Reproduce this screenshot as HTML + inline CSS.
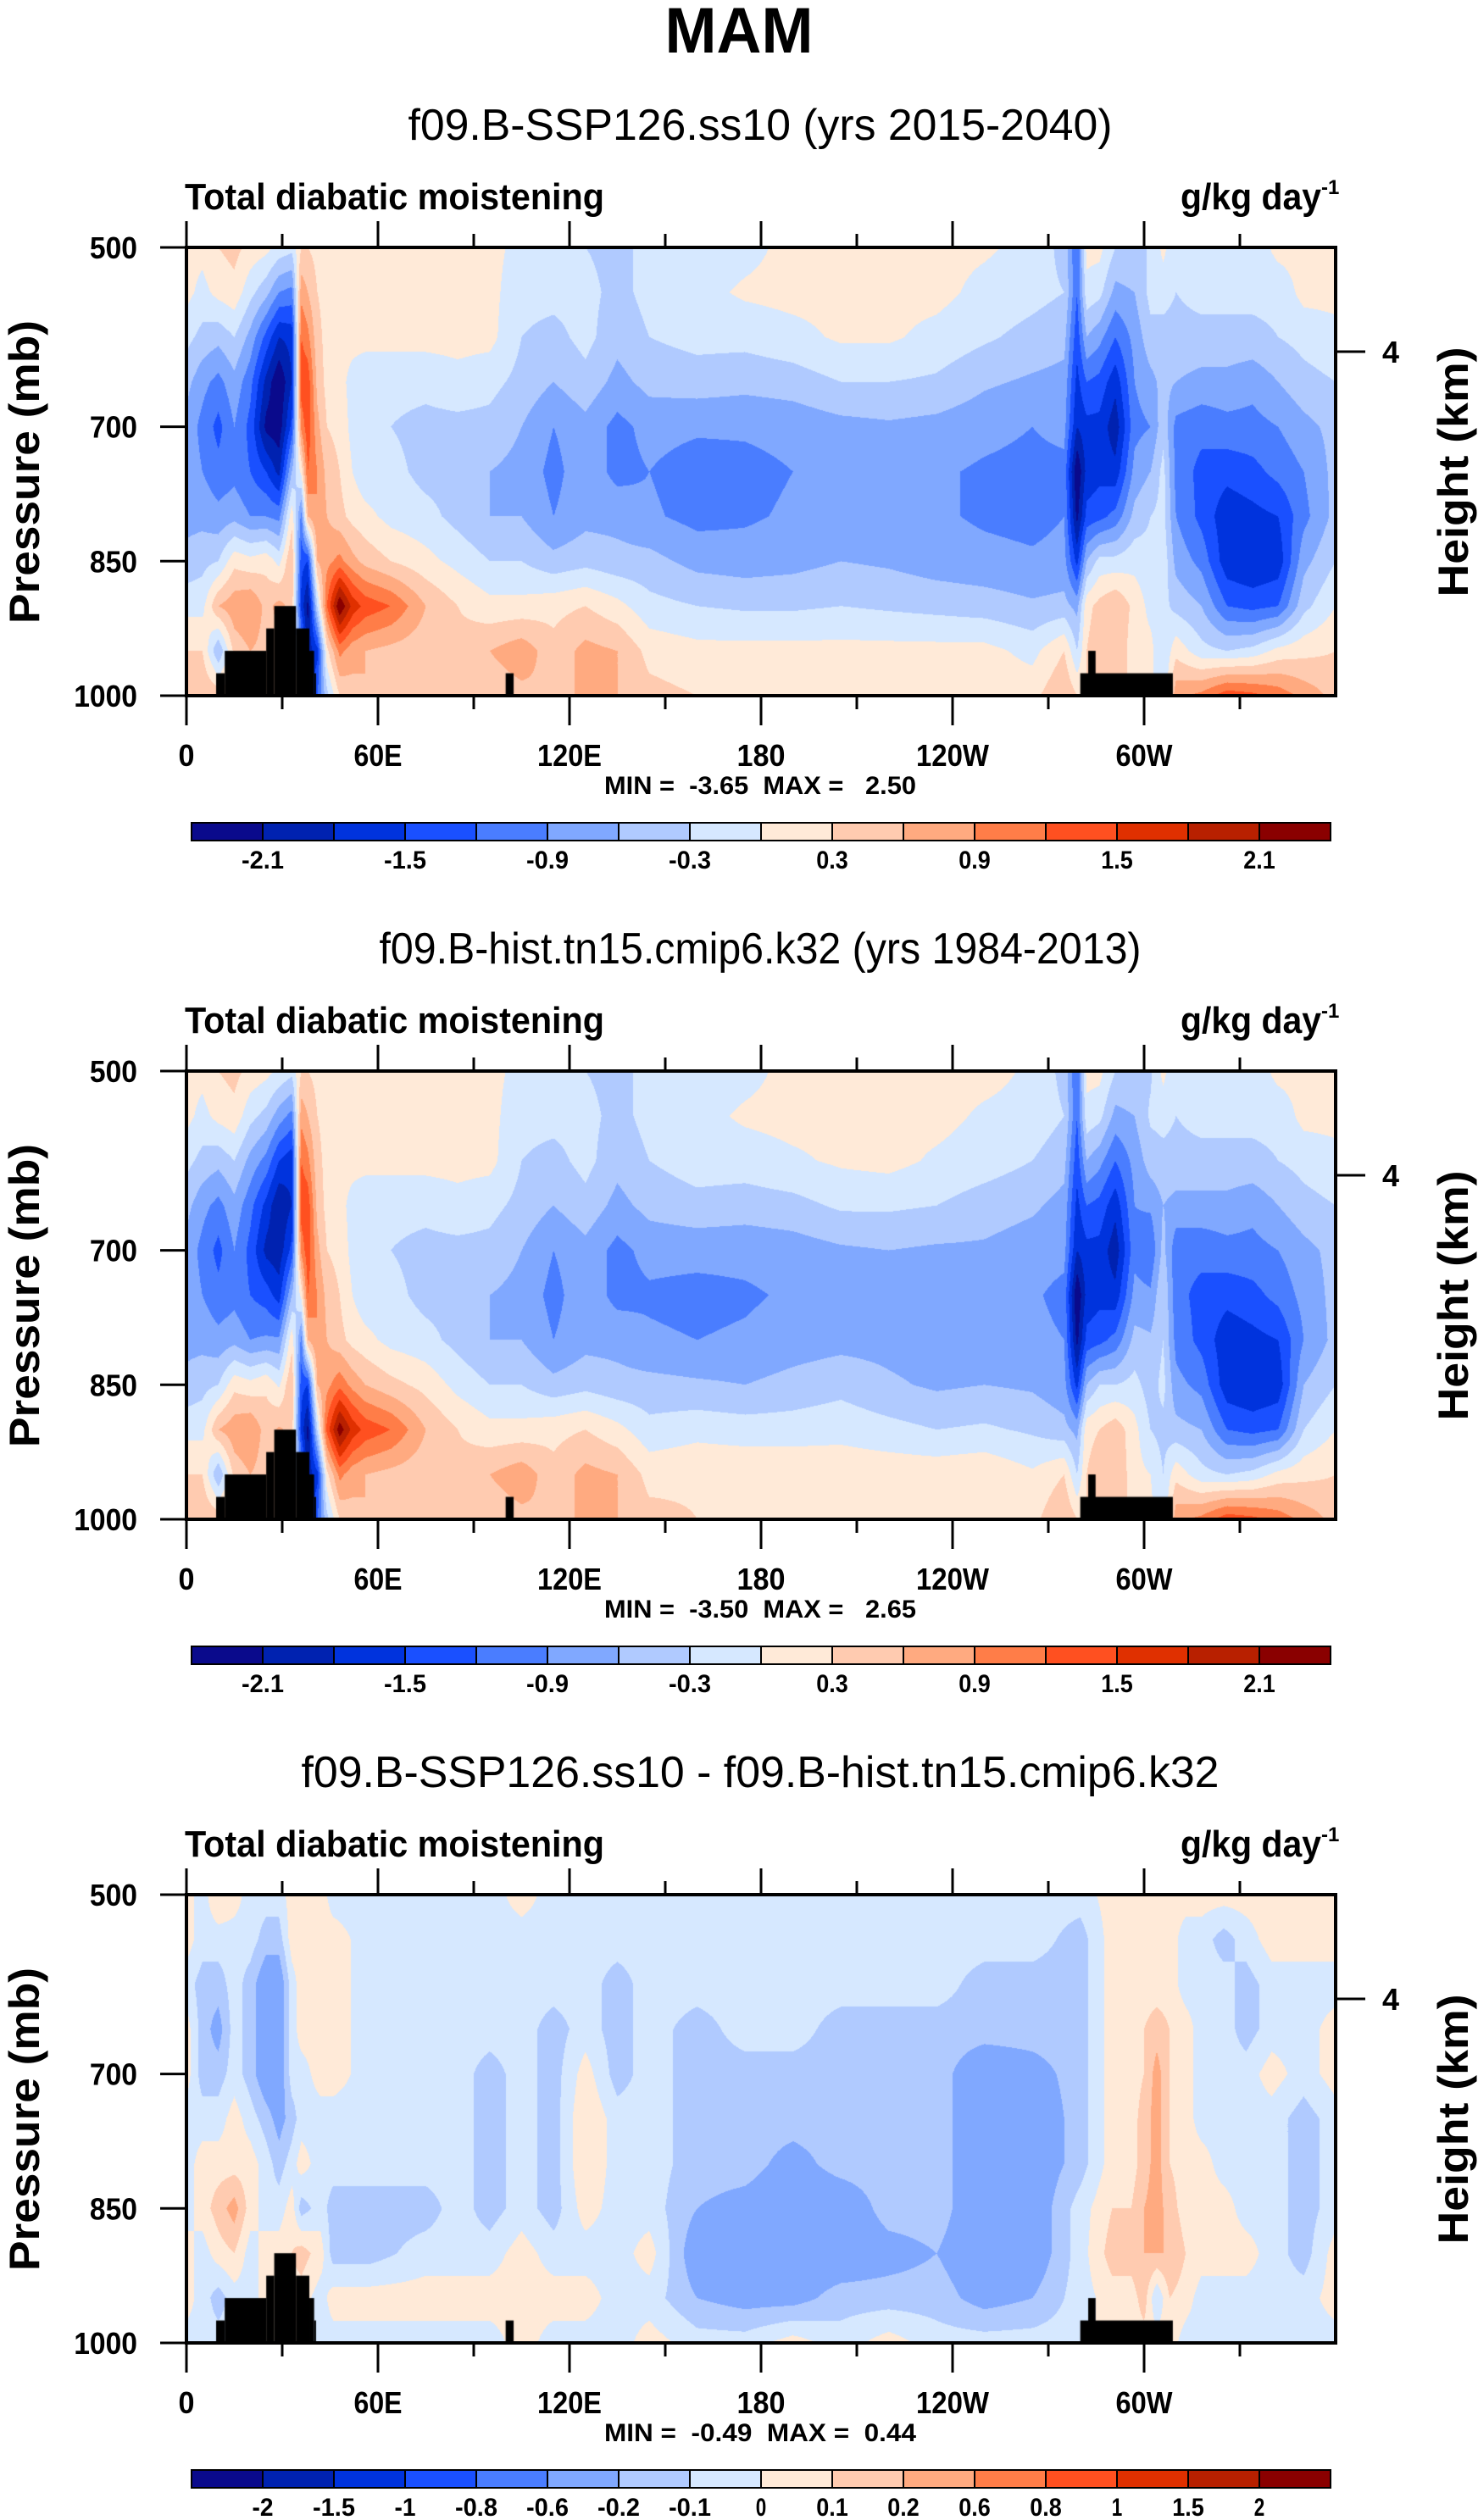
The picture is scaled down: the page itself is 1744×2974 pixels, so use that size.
<!DOCTYPE html>
<html><head><meta charset="utf-8"><title>MAM Total diabatic moistening</title>
<style>
body{margin:0;width:1744px;height:2974px;background:#fff;position:relative;overflow:hidden}
canvas{position:absolute}
svg{position:absolute;left:0;top:0}
text{font-family:"Liberation Sans",sans-serif;fill:#000;white-space:pre}
</style></head>
<body>
<canvas id="c0" width="1356" height="529" style="left:220px;top:292px"></canvas>
<canvas id="c1" width="1356" height="529" style="left:220px;top:1264px"></canvas>
<canvas id="c2" width="1356" height="529" style="left:220px;top:2236px"></canvas>
<svg id="s" width="1744" height="2974"></svg>
<script>
const pLevels=[500,550,600,650,700,750,800,850,900,950,1000];
const lonsAB=[0,5,10,15,20,25,29,33,36,38,41,44,48,52,56,64,75,85,95,105,115,125,135,145,160,175,190,205,220,235,250,265,275,279,282,286,291,297,302,306,310,318,326,334,342,350,360];
const sspField=[
[0.1,0.1,-0.2,-0.5,-0.7,-0.7,-0.7,-0.5,-0.1,0.3,0.5],
[0.1,-0.1,-0.4,-0.8,-1.0,-0.9,-0.7,-0.4,-0.1,0.3,0.6],
[0.3,0.1,-0.5,-1.0,-1.3,-1.1,-0.8,-0.3,0.6,-0.6,0.5],
[0.4,0.2,-0.3,-0.7,-0.9,-1.0,-0.7,0.2,0.8,0.4,0.4],
[0.2,-0.2,-0.7,-1.1,-1.3,-1.2,-0.9,0.1,0.9,0.6,0.5],
[0.1,-0.5,-1.3,-1.9,-2.2,-1.5,-0.9,0.2,0.5,0.5,0.5],
[-0.1,-0.9,-1.8,-2.4,-2.3,-1.9,-1.0,-0.1,0.7,0.5,0.5],
[-0.2,-1.0,-1.7,-1.8,-1.4,-0.6,0.2,0.6,0.5,0.3,0.3],
[0.3,0.8,1.2,1.4,1.0,0.1,-1.0,-1.4,-1.6,-0.8,0.2],
[0.3,0.6,1.0,1.4,1.4,1.2,0.6,-1.5,-2.2,-2.0,-1.5],
[0.2,0.3,0.4,0.5,0.7,0.9,0.9,0.6,-0.3,-1.6,-1.2],
[0.1,0.2,0.2,0.2,0.3,0.5,0.6,0.8,1.2,0.2,-0.4],
[0.1,0.1,0.1,0.1,0.2,0.3,0.4,1.0,2.4,1.0,0.3],
[0.1,0.1,0.1,-0.1,-0.1,0.0,0.2,0.7,1.7,0.7,0.5],
[0.1,0.1,0.1,-0.2,-0.2,-0.2,0.1,0.5,1.4,0.6,0.6],
[0.1,0.1,0.1,-0.2,-0.3,-0.2,-0.1,0.3,1.2,0.5,0.5],
[0.1,0.1,0.1,-0.2,-0.4,-0.4,-0.2,0.1,0.6,0.4,0.4],
[0.1,0.1,0.1,-0.1,-0.4,-0.4,-0.4,-0.1,0.3,0.4,0.4],
[0.1,0.1,0.1,-0.2,-0.4,-0.6,-0.6,-0.3,0.1,0.6,0.4],
[-0.1,-0.2,-0.3,-0.4,-0.6,-0.7,-0.6,-0.3,0.1,0.8,0.5],
[-0.3,-0.2,-0.4,-0.6,-0.9,-1.0,-0.9,-0.5,0.2,0.4,0.6],
[-0.3,-0.2,-0.2,-0.4,-0.7,-0.7,-0.7,-0.4,0.3,0.7,0.6],
[-0.4,-0.4,-0.5,-0.7,-1.0,-1.0,-0.7,-0.5,0.1,0.6,0.6],
[-0.2,-0.2,-0.3,-0.5,-0.8,-0.9,-0.85,-0.5,-0.2,0.2,0.4],
[-0.2,-0.1,-0.2,-0.45,-0.85,-1.05,-1.0,-0.7,-0.3,0.1,0.3],
[-0.1,0.05,-0.2,-0.5,-0.85,-1.0,-0.95,-0.75,-0.35,0.1,0.2],
[0.1,0.1,-0.1,-0.45,-0.8,-0.9,-0.85,-0.7,-0.35,0.1,0.2],
[0.1,0.1,0.05,-0.3,-0.7,-0.85,-0.8,-0.6,-0.3,0.1,0.2],
[0.1,0.1,0.05,-0.3,-0.65,-0.8,-0.8,-0.65,-0.35,0.1,0.2],
[0.1,0.1,-0.1,-0.35,-0.7,-0.85,-0.85,-0.75,-0.4,0.1,0.3],
[0.05,-0.1,-0.25,-0.55,-0.8,-0.95,-0.95,-0.8,-0.45,0.1,0.2],
[-0.1,-0.2,-0.4,-0.65,-0.9,-1.0,-1.0,-0.85,-0.55,-0.1,0.2],
[-0.4,-0.3,-0.5,-0.7,-0.8,-1.0,-0.9,-0.8,-0.5,0.3,0.6],
[-1.2,-1.2,-1.4,-1.6,-1.8,-2.4,-2.2,-1.6,-0.7,-0.3,0.3],
[0.1,-0.1,-0.6,-1.2,-1.6,-1.7,-1.4,-0.6,0.2,0.3,0.3],
[0.1,-0.2,-0.8,-1.3,-1.6,-1.6,-1.3,-0.2,0.4,0.5,0.5],
[-0.3,-0.7,-1.2,-1.7,-2.0,-1.7,-1.1,-0.2,0.6,0.6,0.6],
[-0.3,-0.6,-0.8,-0.9,-1.0,-0.8,-0.5,-0.1,0.2,0.1,0.1],
[-0.3,-0.2,-0.4,-0.7,-0.9,-0.6,-0.3,-0.2,-0.1,0.1,0.1],
[0.1,-0.2,-0.4,-0.5,-0.4,-0.2,-0.2,-0.1,-0.2,-0.3,-0.3],
[-0.3,-0.3,-0.4,-0.6,-1.0,-1.0,-0.9,-0.7,-0.4,0.2,0.8],
[-0.2,-0.2,-0.4,-0.7,-1.1,-1.3,-1.3,-1.0,-0.6,-0.2,1.0],
[-0.2,-0.2,-0.4,-0.7,-1.0,-1.4,-1.7,-1.7,-1.2,-0.3,1.4],
[-0.2,-0.2,-0.4,-0.8,-1.0,-1.3,-1.6,-1.8,-1.3,-0.2,1.3],
[0.1,-0.2,-0.3,-0.6,-0.9,-1.1,-1.5,-1.7,-1.2,0.1,1.1],
[0.1,0.1,-0.2,-0.4,-0.7,-0.9,-1.0,-0.7,-0.4,0.2,0.8],
[0.1,0.1,-0.1,-0.3,-0.5,-0.5,-0.5,-0.3,0.0,0.3,0.5]];
const histField=[
[0.1,0.1,-0.2,-0.5,-0.7,-0.7,-0.7,-0.5,-0.1,0.3,0.5],
[0.1,-0.1,-0.4,-0.8,-1.0,-0.9,-0.7,-0.4,-0.1,0.3,0.6],
[0.3,0.1,-0.5,-1.0,-1.3,-1.1,-0.8,-0.3,0.6,-0.6,0.5],
[0.4,0.2,-0.3,-0.7,-0.9,-1.0,-0.7,0.2,0.8,0.4,0.4],
[0.2,-0.2,-0.7,-1.1,-1.3,-1.2,-0.9,0.1,0.9,0.6,0.5],
[0.1,-0.4,-1.0,-1.6,-1.9,-1.35,-0.85,0.25,0.45,0.45,0.45],
[-0.05,-0.75,-1.5,-2.1,-2.0,-1.65,-0.85,-0.05,0.65,0.45,0.45],
[-0.2,-1.0,-1.7,-1.8,-1.4,-0.6,0.2,0.6,0.5,0.3,0.3],
[0.3,0.8,1.2,1.4,1.0,0.1,-1.0,-1.4,-1.6,-0.8,0.2],
[0.3,0.6,1.0,1.4,1.4,1.2,0.6,-1.5,-2.2,-2.0,-1.5],
[0.2,0.3,0.4,0.5,0.7,0.9,0.9,0.6,-0.3,-1.6,-1.2],
[0.1,0.2,0.2,0.2,0.3,0.5,0.6,0.8,1.3,0.2,-0.4],
[0.1,0.1,0.1,0.1,0.2,0.3,0.4,1.1,2.3,1.0,0.3],
[0.1,0.1,0.1,-0.1,-0.1,0.0,0.2,0.8,1.7,0.7,0.5],
[0.1,0.1,0.1,-0.2,-0.2,-0.2,0.1,0.6,1.4,0.6,0.6],
[0.1,0.1,0.1,-0.2,-0.3,-0.2,-0.1,0.4,1.2,0.5,0.5],
[0.1,0.1,0.1,-0.2,-0.4,-0.4,-0.2,0.2,0.6,0.4,0.4],
[0.1,0.1,0.1,-0.1,-0.4,-0.4,-0.4,-0.1,0.3,0.4,0.4],
[0.1,0.1,0.1,-0.2,-0.4,-0.6,-0.6,-0.3,0.1,0.6,0.4],
[-0.1,-0.2,-0.3,-0.4,-0.6,-0.7,-0.6,-0.3,0.1,0.8,0.5],
[-0.3,-0.2,-0.4,-0.6,-0.9,-1.0,-0.9,-0.5,0.2,0.4,0.6],
[-0.3,-0.2,-0.2,-0.4,-0.7,-0.7,-0.7,-0.4,0.3,0.7,0.6],
[-0.4,-0.4,-0.5,-0.7,-1.0,-1.0,-0.7,-0.5,0.1,0.6,0.6],
[-0.2,-0.2,-0.3,-0.5,-0.8,-0.95,-0.85,-0.5,-0.2,0.2,0.4],
[-0.2,-0.1,-0.15,-0.4,-0.8,-1.0,-0.9,-0.55,-0.1,0.25,0.3],
[-0.1,0.05,-0.15,-0.45,-0.8,-0.95,-0.85,-0.6,-0.15,0.25,0.2],
[0.1,0.1,-0.05,-0.4,-0.75,-0.85,-0.75,-0.5,-0.15,0.25,0.2],
[0.1,0.1,0.05,-0.25,-0.65,-0.8,-0.7,-0.4,-0.1,0.2,0.2],
[0.1,0.1,0.1,-0.25,-0.6,-0.75,-0.7,-0.55,-0.2,0.2,0.2],
[0.1,0.1,-0.05,-0.3,-0.65,-0.8,-0.75,-0.65,-0.3,0.2,0.3],
[0.1,-0.05,-0.15,-0.45,-0.65,-0.8,-0.8,-0.6,-0.25,0.25,0.2],
[-0.05,-0.1,-0.3,-0.55,-0.75,-0.85,-0.8,-0.65,-0.35,0.05,0.2],
[-0.4,-0.3,-0.5,-0.7,-0.8,-1.0,-0.9,-0.8,-0.5,0.3,0.6],
[-1.2,-1.2,-1.4,-1.6,-1.8,-2.4,-2.2,-1.6,-0.7,-0.3,0.3],
[0.1,-0.1,-0.6,-1.2,-1.6,-1.7,-1.4,-0.6,0.2,0.3,0.3],
[0.1,-0.2,-0.8,-1.3,-1.6,-1.6,-1.3,-0.3,0.3,0.5,0.5],
[-0.3,-0.7,-1.2,-1.7,-2.0,-1.7,-1.1,-0.3,0.5,0.6,0.6],
[-0.3,-0.6,-0.8,-0.9,-1.0,-0.8,-0.5,-0.2,0.1,0.1,0.1],
[-0.35,-0.25,-0.45,-0.85,-1.15,-0.85,-0.55,-0.45,-0.3,0.0,0.1],
[0.1,-0.2,-0.4,-0.6,-0.5,-0.3,-0.3,-0.2,-0.4,-0.3,-0.3],
[-0.3,-0.3,-0.4,-0.7,-1.1,-1.1,-1.0,-0.8,-0.5,0.2,0.8],
[-0.2,-0.2,-0.4,-0.7,-1.1,-1.3,-1.3,-1.0,-0.6,-0.2,1.0],
[-0.2,-0.2,-0.4,-0.7,-1.0,-1.4,-1.7,-1.7,-1.2,-0.3,1.4],
[-0.2,-0.2,-0.4,-0.8,-1.0,-1.3,-1.6,-1.8,-1.3,-0.2,1.3],
[0.1,-0.2,-0.3,-0.6,-0.9,-1.1,-1.5,-1.7,-1.2,0.1,1.1],
[0.1,0.1,-0.2,-0.4,-0.7,-0.8,-0.9,-0.6,-0.3,0.2,0.8],
[0.1,0.1,-0.1,-0.3,-0.5,-0.5,-0.5,-0.3,0.0,0.3,0.5]];
const lonsC=[0,5,10,15,20,25,29,33,36,42,46,57,75,85,95,105,115,125,135,145,160,175,190,205,220,235,250,265,280,290,296,300,304,308,313,318,325,332,340,350,360];
const diffField=[
[0.05,0.05,-0.05,0.05,0.05,-0.05,-0.05,-0.05,0.05,0.05,-0.05],
[-0.05,-0.05,-0.15,-0.15,-0.15,-0.05,0.05,0.05,-0.05,-0.05,-0.05],
[0.1,-0.05,-0.15,-0.25,-0.15,-0.05,0.05,0.15,0.05,-0.15,-0.05],
[0.05,-0.05,-0.05,-0.05,-0.05,0.05,0.05,0.25,0.1,-0.05,-0.05],
[-0.05,-0.05,-0.15,-0.15,-0.15,-0.05,0.05,0.05,-0.05,-0.05,-0.05],
[-0.05,-0.15,-0.3,-0.3,-0.3,-0.15,-0.05,-0.05,0.05,0.05,0.05],
[-0.05,-0.15,-0.3,-0.3,-0.3,-0.25,-0.15,-0.05,0.05,0.05,0.05],
[0.05,0.05,-0.05,-0.05,-0.05,-0.15,-0.05,0.05,0.1,0.05,0.05],
[0.05,0.05,0.05,0.05,-0.05,-0.05,0.05,-0.15,0.15,0.05,0.05],
[0.05,0.05,0.05,0.05,0.05,-0.05,-0.05,-0.05,0.05,-0.05,-0.05],
[-0.05,0.05,0.05,0.05,0.05,-0.05,-0.05,-0.15,-0.15,0.05,-0.05],
[-0.05,-0.05,-0.05,-0.05,-0.05,-0.05,-0.05,-0.15,-0.15,0.05,-0.05],
[-0.05,-0.05,-0.05,-0.05,-0.05,-0.05,-0.05,-0.15,-0.05,0.05,-0.05],
[-0.05,-0.05,-0.05,-0.05,-0.05,-0.05,-0.05,-0.05,-0.05,0.05,-0.05],
[-0.05,-0.05,-0.05,-0.05,-0.15,-0.15,-0.15,-0.15,-0.05,0.05,-0.05],
[0.05,-0.05,-0.05,-0.05,-0.05,-0.05,-0.05,-0.05,0.05,0.05,0.05],
[-0.05,-0.05,-0.05,-0.15,-0.15,-0.15,-0.15,-0.15,-0.05,0.05,-0.05],
[-0.05,-0.05,-0.05,-0.05,0.05,0.1,0.1,0.05,-0.05,0.05,-0.05],
[-0.05,-0.05,-0.15,-0.15,-0.15,-0.05,-0.05,-0.05,-0.05,-0.05,-0.05],
[-0.05,-0.05,-0.05,-0.05,-0.05,-0.05,-0.05,-0.05,0.05,-0.05,0.05],
[-0.05,-0.05,-0.05,-0.15,-0.15,-0.15,-0.15,-0.2,-0.3,-0.2,-0.05],
[-0.05,-0.05,-0.05,-0.05,-0.15,-0.15,-0.15,-0.25,-0.3,-0.25,-0.05],
[-0.05,-0.05,-0.05,-0.05,-0.15,-0.15,-0.25,-0.3,-0.3,-0.25,0.05],
[-0.05,-0.05,-0.05,-0.15,-0.15,-0.15,-0.15,-0.3,-0.3,-0.15,-0.05],
[-0.05,-0.05,-0.05,-0.15,-0.15,-0.15,-0.15,-0.15,-0.25,-0.15,0.05],
[-0.05,-0.05,-0.05,-0.15,-0.15,-0.15,-0.15,-0.15,-0.2,-0.15,-0.05],
[-0.05,-0.05,-0.15,-0.15,-0.3,-0.3,-0.3,-0.3,-0.3,-0.25,-0.05],
[-0.05,-0.05,-0.15,-0.15,-0.25,-0.3,-0.3,-0.3,-0.3,-0.2,-0.05],
[-0.05,-0.15,-0.15,-0.15,-0.15,-0.15,-0.15,-0.05,-0.05,-0.05,-0.05],
[0.05,0.05,0.05,0.05,0.05,0.05,0.05,0.1,0.15,0.05,0.05],
[0.05,0.05,0.05,0.05,0.05,0.05,0.05,0.1,0.15,0.05,0.05],
[0.1,0.05,0.05,0.1,0.1,0.15,0.15,0.2,0.2,0.15,0.05],
[0.05,0.05,0.05,0.15,0.25,0.25,0.25,0.25,0.2,-0.1,0.05],
[0.05,0.05,0.05,0.1,0.1,0.1,0.1,0.15,0.2,0.1,0.05],
[0.05,-0.05,-0.05,0.05,0.05,0.05,0.05,0.05,0.1,0.05,-0.05],
[0.05,-0.05,-0.05,-0.05,-0.05,-0.05,0.05,0.05,0.05,-0.05,-0.05],
[0.05,-0.15,-0.05,-0.05,-0.05,-0.05,-0.05,0.05,0.05,-0.05,-0.05],
[0.05,-0.05,-0.15,-0.15,-0.05,-0.05,-0.05,-0.05,0.05,-0.05,-0.05],
[0.05,0.05,-0.05,-0.05,0.05,-0.05,-0.05,-0.05,-0.05,-0.05,-0.05],
[0.05,0.05,-0.05,-0.05,-0.05,-0.15,-0.15,-0.15,-0.15,-0.05,-0.05],
[0.05,0.05,-0.05,0.05,0.05,-0.05,-0.05,-0.05,0.05,0.05,-0.05]];
const levelsAB=[-2.1,-1.8,-1.5,-1.2,-0.9,-0.6,-0.3,0,0.3,0.6,0.9,1.2,1.5,1.8,2.1];
const levelsC=[-2,-1.5,-1,-0.8,-0.6,-0.2,-0.1,0,0.1,0.2,0.6,0.8,1,1.5,2];
const cbLabelsAB=['','-2.1','','-1.5','','-0.9','','-0.3','','0.3','','0.9','','1.5','','2.1'];
const cbLabelsC=['','-2','-1.5','-1','-0.8','-0.6','-0.2','-0.1','0','0.1','0.2','0.6','0.8','1','1.5','2'];
const palette=['#0a0a8c','#0022b0','#0033dd','#1a50ff','#4a7dff','#80a8ff','#b0caff','#d6e8ff','#ffead8','#ffcbb0','#ffaa80','#ff7d48','#ff5020','#e03000','#b82000','#8a0000'];
const terrainStart=[9.3,12,25,27.5,34.3,38.5,40,100,280,282.5];
const terrainEnd=[12,25,27.5,34.3,38.5,40,40.6,102.5,309,284.8];
const terrainTop=[975,950,925,900,925,950,975,975,975,950];
const xTickLons=[0,60,120,180,240,300];
const xTickLabels=['0','60E','120E','180','120W','60W'];
const xMinorLons=[30,90,150,210,270,330];
const yTickP=[500,700,850,1000];
const yTickLabels=['500','700','850','1000'];
const minMaxText=['MIN =  -3.65  MAX =   2.50','MIN =  -3.50  MAX =   2.65','MIN =  -0.49  MAX =  0.44'];
const subtitles=['f09.B-SSP126.ss10 (yrs 2015-2040)','f09.B-hist.tn15.cmip6.k32 (yrs 1984-2013)','f09.B-SSP126.ss10 - f09.B-hist.tn15.cmip6.k32'];

const X0=220,X1=1576,H=529,PW=1356;
const panelTop=[292,1264,2236];
const xS=lon=>X0+lon/360*(X1-X0);
const yS=(k,p)=>panelTop[k]+(p-500)/500*H;

function hexRGB(h){return [parseInt(h.substr(1,2),16),parseInt(h.substr(3,2),16),parseInt(h.substr(5,2),16)];}
const rgb=palette.map(hexRGB);

function drawField(cid,lons,field,levels){
  const cv=document.getElementById(cid),ctx=cv.getContext('2d');
  const img=ctx.createImageData(PW,H);
  const li=[];
  for(let x=0;x<PW;x++){const lon=(x+0.5)/PW*360;let i=0;while(i<lons.length-2&&lon>lons[i+1])i++;li.push([i,(lon-lons[i])/(lons[i+1]-lons[i])]);}
  for(let y=0;y<H;y++){
    const p=500+(y+0.5)/H*500;let j=Math.min(9,Math.floor((p-500)/50));const ty=(p-pLevels[j])/50;
    for(let x=0;x<PW;x++){
      const [i,tx]=li[x];
      const v=(field[i][j]*(1-tx)+field[i+1][j]*tx)*(1-ty)+(field[i][j+1]*(1-tx)+field[i+1][j+1]*tx)*ty;
      let c=0;while(c<levels.length&&v>=levels[c])c++;
      const o=(y*PW+x)*4,col=rgb[c];img.data[o]=col[0];img.data[o+1]=col[1];img.data[o+2]=col[2];img.data[o+3]=255;
    }
  }
  ctx.putImageData(img,0,0);
  ctx.fillStyle='#000';
  for(let t=0;t<terrainStart.length;t++){
    const xa=terrainStart[t]/360*PW,xb=terrainEnd[t]/360*PW,ya=(terrainTop[t]-500)/500*H;
    ctx.fillRect(xa,ya,xb-xa,H-ya);
  }
}
drawField('c0',lonsAB,sspField,levelsAB);
drawField('c1',lonsAB,histField,levelsAB);
drawField('c2',lonsC,diffField,levelsC);

const svg=document.getElementById('s');
const NS='http://www.w3.org/2000/svg';
function mk(tag,attrs,name,txt){
  const e=document.createElementNS(NS,tag);
  for(const k in attrs)e.setAttribute(k,attrs[k]);
  
  
  if(txt!==undefined)e.textContent=txt;
  svg.appendChild(e);return e;
}
const title=mk('text',{x:872,y:62,'text-anchor':'middle','font-size':76,'font-weight':'bold',textLength:175,lengthAdjust:'spacingAndGlyphs'},'main-title','MAM');
const subW=[831,899,1083];
for(let k=0;k<3;k++){
  const T=panelTop[k],off=k*972;
  mk('text',{x:897,y:165+off,'text-anchor':'middle','font-size':52,textLength:subW[k],lengthAdjust:'spacingAndGlyphs'},'panel-title-'+(k+1),subtitles[k]);
  mk('text',{x:218,y:247+off,'font-size':44,'font-weight':'bold',textLength:495,lengthAdjust:'spacingAndGlyphs'},'left-string',"Total diabatic moistening");
  const u=mk('text',{x:1393,y:247+off,'font-size':44,'font-weight':'bold'},'units-label');
  u.innerHTML='<tspan textLength="166" lengthAdjust="spacingAndGlyphs">g/kg day</tspan><tspan dy="-18" font-size="24">-1</tspan>';
  mk('rect',{x:X0,y:T,width:X1-X0,height:H,fill:'none',stroke:'#000','stroke-width':4},'plot-frame');
  for(let m=0;m<xTickLons.length;m++){
    const x=xS(xTickLons[m]);
    mk('line',{x1:x,x2:x,y1:T+H,y2:T+H+35,stroke:'#000','stroke-width':3},'x-major-tick');
    mk('line',{x1:x,x2:x,y1:T,y2:T-31,stroke:'#000','stroke-width':3},'x-top-tick');
    const tl=xTickLabels[m];
    mk('text',{x:x,y:T+H+83,'text-anchor':'middle','font-size':36,'font-weight':'bold',textLength:tl.length*19+(tl.indexOf('W')>=0?10:0),lengthAdjust:'spacingAndGlyphs'},'x-tick-label',tl);
  }
  for(const ml of xMinorLons){
    const x=xS(ml);
    mk('line',{x1:x,x2:x,y1:T+H,y2:T+H+16,stroke:'#000','stroke-width':3},'x-minor-tick');
    mk('line',{x1:x,x2:x,y1:T,y2:T-16,stroke:'#000','stroke-width':3},'x-top-minor-tick');
  }
  for(let m=0;m<yTickP.length;m++){
    const y=yS(k,yTickP[m]);
    mk('line',{x1:X0,x2:X0-31,y1:y,y2:y,stroke:'#000','stroke-width':3},'y-tick');
    mk('text',{x:162,y:y+13,'text-anchor':'end','font-size':36,'font-weight':'bold',textLength:yTickLabels[m].length*18.7,lengthAdjust:'spacingAndGlyphs'},'y-tick-label',yTickLabels[m]);
  }
  mk('line',{x1:X1,x2:X1+35,y1:T+123,y2:T+123,stroke:'#000','stroke-width':3},'height-tick');
  mk('text',{x:1641,y:T+136,'text-anchor':'middle','font-size':36,'font-weight':'bold'},'height-tick-label','4');
  mk('text',{x:0,y:0,'text-anchor':'middle','font-size':50,'font-weight':'bold',textLength:358,lengthAdjust:'spacingAndGlyphs',transform:'translate(46,'+(557+off)+') rotate(-90)'},'y-axis-title','Pressure (mb)');
  mk('text',{x:0,y:0,'text-anchor':'middle','font-size':50,'font-weight':'bold',textLength:295,lengthAdjust:'spacingAndGlyphs',transform:'translate(1732,'+(557+off)+') rotate(-90)'},'right-axis-title','Height (km)');
  mk('text',{x:897,y:937+off,'text-anchor':'middle','font-size':30,'font-weight':'bold',textLength:368,lengthAdjust:'spacingAndGlyphs'},'min-max-label',minMaxText[k]);
  const labs=k<2?cbLabelsAB:cbLabelsC;
  for(let b=0;b<palette.length;b++){
    mk('rect',{x:226+84*b,y:971+off,width:84,height:21,fill:palette[b],stroke:'#000','stroke-width':2},'colorbar-box');
    if(labs[b])mk('text',{x:226+84*b,y:1025+off,'text-anchor':'middle','font-size':30,'font-weight':'bold',textLength:labs[b].length*12.5,lengthAdjust:'spacingAndGlyphs'},'colorbar-label',labs[b]);
  }
}
</script>
</body></html>
